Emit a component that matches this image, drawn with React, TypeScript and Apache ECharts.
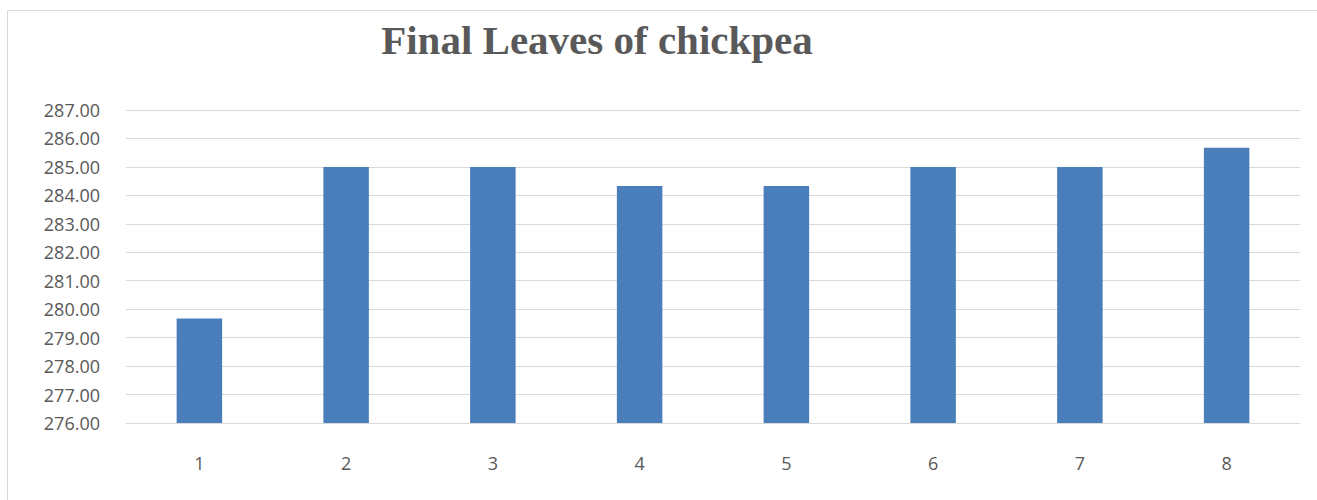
import React, { useEffect, useRef } from "react";
import * as echarts from "echarts";

const categories = ["1", "2", "3", "4", "5", "6", "7", "8"];
const values = [279.67, 285.0, 285.0, 284.33, 284.33, 285.0, 285.0, 285.67];
const yMin = 276;
const yMax = 287;
const yInterval = 1;

export default function App() {
  const ref = useRef<HTMLDivElement>(null);
  useEffect(() => {
    if (!ref.current) return;
    const chart = echarts.init(ref.current, null, { renderer: "svg" });
    chart.setOption({
      animation: false,
      backgroundColor: "#ffffff",
      graphic: [
        {
          type: "rect",
          shape: { x: 7.5, y: 10.5, width: 1320, height: 500 },
          style: { fill: "none", stroke: "#d9d9d9", lineWidth: 1 },
          silent: true,
        },
      ],
      title: {
        text: "Final Leaves of chickpea",
        left: 592,
        textAlign: "center",
        top: 14,
        textStyle: {
          fontFamily: "Liberation Serif",
          fontWeight: "bold",
          fontSize: 41,
          color: "#595959",
        },
      },
      grid: { left: 126, right: 17, top: 110, bottom: 77, containLabel: false },
      xAxis: {
        type: "category",
        data: categories,
        axisLine: { show: true, lineStyle: { color: "#d9d9d9" } },
        axisTick: { show: false },
        axisLabel: {
          color: "#595959",
          fontFamily: "Open Sans",
          fontSize: 18,
          margin: 31,
        },
      },
      yAxis: {
        type: "value",
        min: yMin,
        max: yMax,
        interval: yInterval,
        axisLine: { show: false },
        axisTick: { show: false },
        splitLine: { lineStyle: { color: "#d9d9d9", width: 1 } },
        axisLabel: {
          color: "#595959",
          fontFamily: "Open Sans",
          fontSize: 18,
          margin: 26,
          formatter: (v: number) => v.toFixed(2),
        },
      },
      series: [
        {
          type: "bar",
          data: values,
          barWidth: "31%",
          itemStyle: { color: "#4a7ebb" },
        },
      ],
    });
    return () => chart.dispose();
  }, []);
  return (
    <div
      ref={ref}
      style={{ position: "absolute", left: 0, top: 0, width: 1317, height: 500 }}
    />
  );
}
